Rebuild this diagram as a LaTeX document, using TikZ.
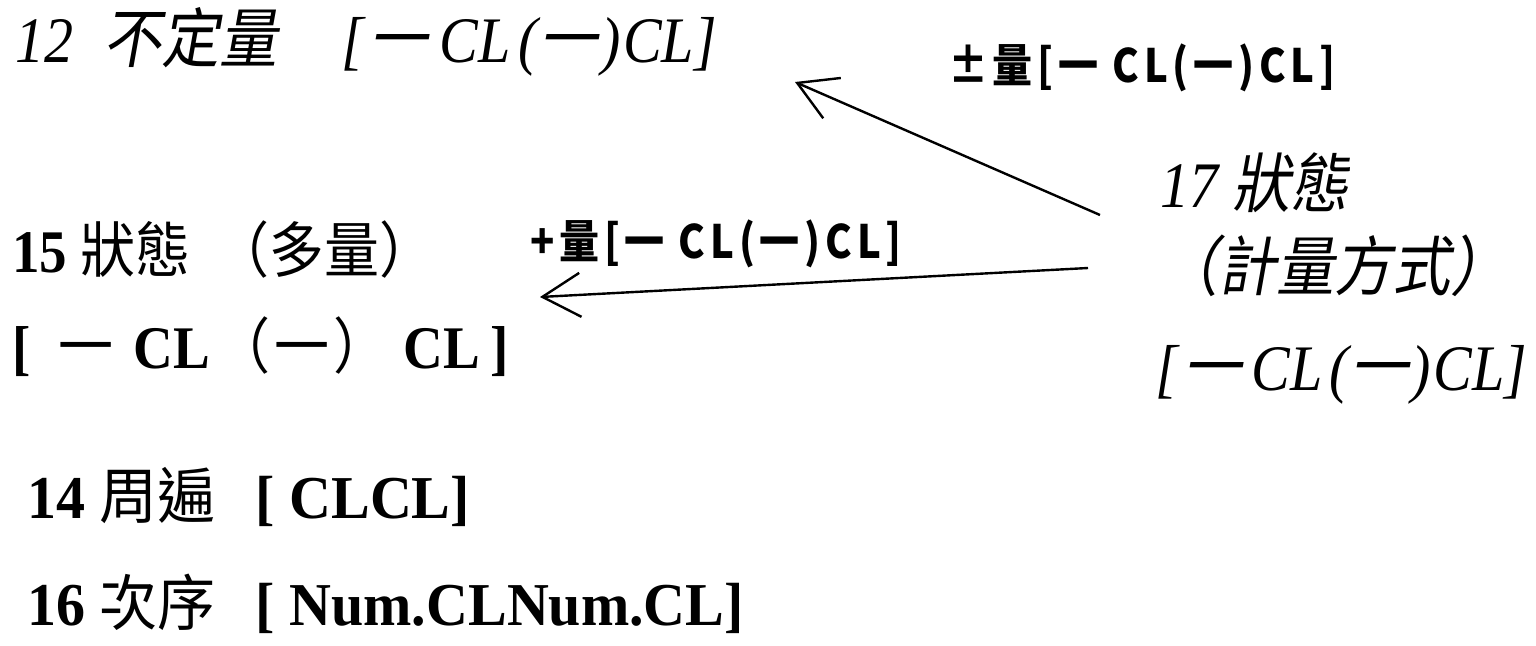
\documentclass[tikz,border=0pt]{standalone}
\usepackage{fontspec}
\usepackage{graphicx}
\setmainfont{Liberation Serif}
\newfontfamily\cjk{Noto Sans CJK TC}
\newfontfamily\cjkit[FakeSlant=0.2]{Noto Sans CJK TC}
\newfontfamily\labfont[LetterSpace=12]{Noto Sans CJK TC}
\newcommand{\tallbox}[2]{\scalebox{1}[#1]{#2}}
\newcommand{\cj}[1]{{\cjk\mdseries #1}}
\usetikzlibrary{arrows.meta}
\tikzset{
  txt/.style={anchor=base west, inner sep=0pt, text=black},
  itl/.style={font=\itshape\fontsize{58}{60}\selectfont},
  bld/.style={font=\bfseries\fontsize{55}{57}\selectfont},
  bldb/.style={font=\bfseries\fontsize{58}{60}\selectfont},
  lab/.style={anchor=base west, inner sep=0pt, font=\labfont\bfseries\fontsize{40}{42}\selectfont},
  conn/.style={line width=2.4pt, -{Straight Barb[length=38pt,width=44pt,line width=2.4pt]}}
}
\begin{document}
\begin{tikzpicture}[x=1pt,y=-1pt]
\useasboundingbox (0,0) rectangle (1536,645);
\node[txt,itl] (n12) at (15,62) {\tallbox{1.12}{12\hspace{30pt}{\cjkit 不定量}\hspace{64pt}[\hspace{6pt}{\cjkit 一}\hspace{12pt}CL\hspace{8pt}(\hspace{1pt}{\cjkit 一}\hspace{4pt})\hspace{3pt}CL]}};
\node[txt,bld] (n15a) at (12,272) {\tallbox{1.1}{15 \cj{狀態}\hspace{24pt}\cj{（多量）}}};
\node[txt,bld] (n15b) at (12,368) {\tallbox{1.1}{[\hspace{28pt}\cj{一}\hspace{20pt}CL\hspace{6pt}\cj{（}\hspace{4pt}\cj{一}\hspace{4pt}\cj{）}\hspace{15pt}CL\hspace{10pt}]}};
\node[txt,bldb] (n14) at (27,518) {\tallbox{1.05}{14 \cj{周遍}\hspace{40pt}[ CLCL]}};
\node[txt,bldb] (n16) at (27,625) {\tallbox{1.05}{16 \cj{次序}\hspace{40pt}[ Num.CLNum.CL]}};
\node[txt,itl] (n17a) at (1160,207) {\tallbox{1.12}{17 {\cjkit 狀態}}};
\node[txt,itl] (n17b) at (1160,290) {\tallbox{1.12}{\cjkit （計量方式）}};
\node[txt,itl] (n17c) at (1155,390) {\tallbox{1.12}{[\hspace{6pt}{\cjkit 一}\hspace{10pt}CL\hspace{7pt}(\hspace{1pt}{\cjkit 一}\hspace{3pt})\hspace{3pt}CL]}};
\node[lab] (lab1) at (948,82) {\tallbox{1.15}{±量[一 CL(一)CL]}};
\node[lab] (lab2) at (530,258) {\tallbox{1.15}{+量[一 CL(一)CL]}};
\coordinate (o1) at (1100,215);
\coordinate (t1) at (795,82);
\coordinate (o2) at (1088,268);
\coordinate (t2) at (540,297);
\draw[conn] (o1) -- (t1);
\draw[conn] (o2) -- (t2);
\end{tikzpicture}
\end{document}
